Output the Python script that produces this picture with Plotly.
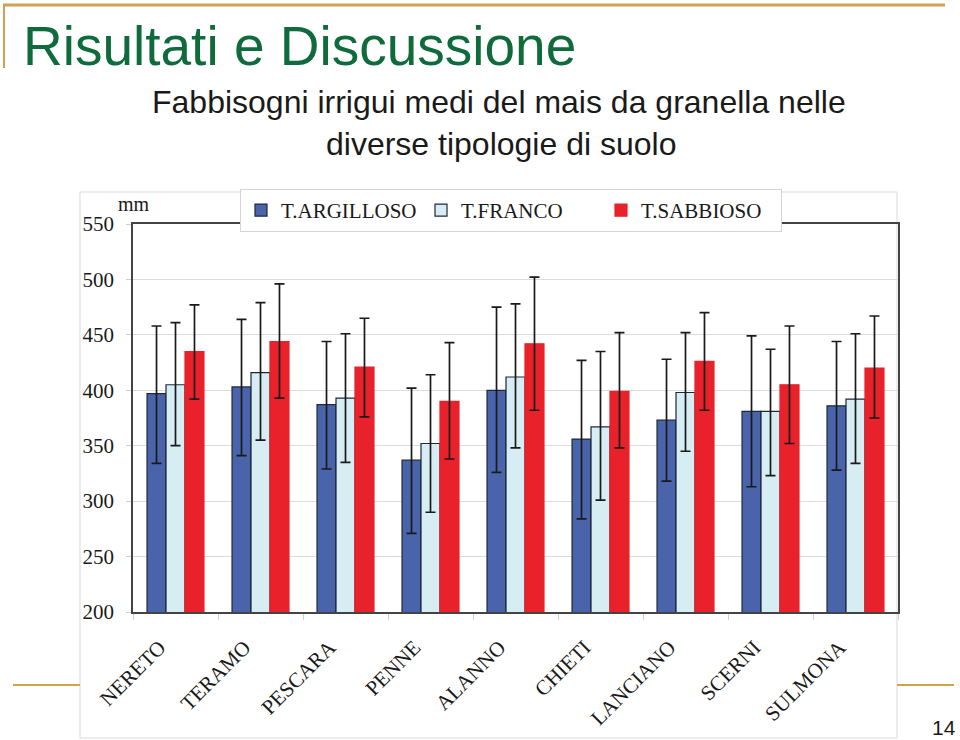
import numpy as np
import plotly.graph_objects as go

# ---------------- data ----------------
categories = ["NERETO", "TERAMO", "PESCARA", "PENNE", "ALANNO",
              "CHIETI", "LANCIANO", "SCERNI", "SULMONA"]
series_names = ["T.ARGILLOSO", "T.FRANCO", "T.SABBIOSO"]

argilloso = [397, 403, 387, 337, 400, 356, 373, 381, 386]
argilloso_hi = [458, 464, 444, 402, 475, 427, 428, 449, 444]
argilloso_lo = [334, 341, 329, 271, 326, 284, 318, 313, 328]

franco = [405, 416, 393, 352, 412, 367, 398, 381, 392]
franco_hi = [461, 479, 451, 414, 478, 435, 452, 437, 451]
franco_lo = [350, 355, 335, 290, 348, 301, 345, 323, 334]

sabbioso = [435, 444, 421, 390, 442, 399, 426, 405, 420]
sabbioso_hi = [477, 496, 465, 443, 502, 452, 470, 458, 467]
sabbioso_lo = [392, 393, 376, 338, 382, 348, 382, 352, 375]

y_tick_values = [200, 250, 300, 350, 400, 450, 500, 550]

# ---------------- layout helpers (pixel -> paper) ----------------
W, H = 960, 740
L, R, T, B = 133, 62, 224, 128
PW, PH = W - L - R, H - T - B


def px(x):
    return (x - L) / PW


def py(y):
    return (H - B - y) / PH


colors = ["#4A64AC", "#D6EDF4", "#E8212A"]
outlines = ["#1E2838", "#1E2838", "#E8212A"]
serif = "Liberation Serif, Times New Roman, serif"
sans = "Liberation Sans, Arial, sans-serif"

fig = go.Figure()
for name, vals, hi, lo, c, oc in zip(
        series_names,
        [argilloso, franco, sabbioso],
        [argilloso_hi, franco_hi, sabbioso_hi],
        [argilloso_lo, franco_lo, sabbioso_lo],
        colors, outlines):
    v = np.array(vals)
    fig.add_trace(go.Bar(
        x=categories, y=v, name=name,
        marker=dict(color=c, line=dict(color=oc, width=1.2)),
        error_y=dict(type="data", symmetric=False,
                     array=np.array(hi) - v, arrayminus=v - np.array(lo),
                     color="#1a1a1a", thickness=1.7, width=5),
    ))

fig.update_layout(
    width=W, height=H,
    margin=dict(l=L, r=R, t=T, b=B, autoexpand=False),
    paper_bgcolor="white", plot_bgcolor="white",
    barmode="group", bargap=0.33, bargroupgap=0.0,
    showlegend=True,
    legend=dict(orientation="h", x=px(240), y=py(189),
                xanchor="left", yanchor="top",
                entrywidth=135, entrywidthmode="pixels",
                bgcolor="white", bordercolor="#d4d4d4", borderwidth=1,
                font=dict(family=serif, size=21, color="#1a1a1a")),
    font=dict(family=serif, color="#1a1a1a"),
)

fig.update_yaxes(range=[200, 550], tickvals=y_tick_values,
                 showgrid=True, gridcolor="#dcdcdc", gridwidth=1,
                 showline=True, linecolor="#444444", linewidth=1.6, mirror=True,
                 ticks="outside", ticklen=5, tickcolor="#d0d0d0",
                 ticklabelstandoff=8,
                 tickfont=dict(family=serif, size=21, color="#1a1a1a"),
                 zeroline=False, fixedrange=True)
fig.update_xaxes(showgrid=False,
                 showline=True, linecolor="#444444", linewidth=1.6, mirror=True,
                 ticks="outside", ticklen=6, tickcolor="#d0d0d0",
                 tickson="boundaries", tickangle=-45,
                 ticklabelstandoff=13, ticklabelshift=-16,
                 tickfont=dict(family=serif, size=21, color="#1a1a1a"))

gold = "#CFA24F"
shapes = [
    # outer chart-area border
    dict(type="rect", xref="paper", yref="paper",
         x0=px(80), x1=px(897), y0=py(738), y1=py(192),
         line=dict(color="#d9d9d9", width=1), layer="below"),
    # slide decorations
    dict(type="line", xref="paper", yref="paper",
         x0=px(3), x1=px(945), y0=py(5), y1=py(5),
         line=dict(color=gold, width=3)),
    dict(type="line", xref="paper", yref="paper",
         x0=px(4), x1=px(4), y0=py(5), y1=py(68),
         line=dict(color=gold, width=2)),
    dict(type="line", xref="paper", yref="paper",
         x0=px(13), x1=px(80), y0=py(685), y1=py(685),
         line=dict(color=gold, width=2)),
    dict(type="line", xref="paper", yref="paper",
         x0=px(897), x1=px(954), y0=py(685), y1=py(685),
         line=dict(color=gold, width=2)),
]
fig.update_layout(shapes=shapes)

annotations = [
    dict(text="Risultati e Discussione", x=px(21), y=py(46),
         xanchor="left", yanchor="middle",
         font=dict(family=sans, size=55, color="#0F6B3B")),
    dict(text="Fabbisogni irrigui medi del mais da granella nelle",
         x=px(499), y=py(102), xanchor="center", yanchor="middle",
         font=dict(family=sans, size=32, color="#1a1a1a")),
    dict(text="diverse tipologie di suolo",
         x=px(501), y=py(144), xanchor="center", yanchor="middle",
         font=dict(family=sans, size=32, color="#1a1a1a")),
    dict(text="mm", x=px(134), y=py(204), xanchor="center", yanchor="middle",
         font=dict(family=serif, size=20, color="#1a1a1a")),
    dict(text="14", x=px(958), y=py(727), xanchor="right", yanchor="middle",
         font=dict(family=sans, size=21, color="#1a1a1a")),
]
for a in annotations:
    a.update(xref="paper", yref="paper", showarrow=False)
fig.update_layout(annotations=annotations)

fig.write_html("out.html")
